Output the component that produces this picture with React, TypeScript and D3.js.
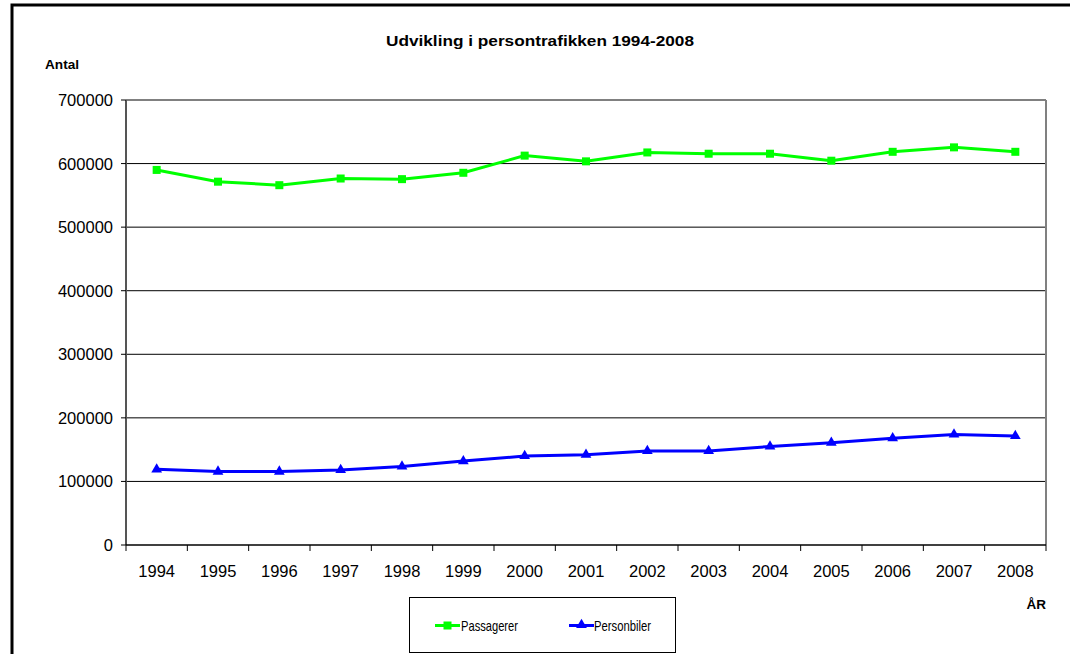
import React from "react";
import * as d3 from "d3";

const years = ["1994","1995","1996","1997","1998","1999","2000","2001","2002","2003","2004","2005","2006","2007","2008"];
const passagerer = [590000,571500,566000,576500,575500,585500,612500,603500,617500,615500,615500,604500,618500,625500,618500];
const personbiler = [119000,115500,115500,118000,123500,132000,140000,142000,148000,148000,155000,161000,168000,174000,171500];
const yTicks = [0,100000,200000,300000,400000,500000,600000,700000];

const W = 1070, H = 654;
const plot = { left: 126, right: 1046, top: 100, bottom: 545 };
const font = "'Liberation Sans', Arial, sans-serif";

export default function App() {
  const x = d3.scaleBand<string>().domain(years).range([plot.left, plot.right]);
  const y = d3.scaleLinear().domain([0, 700000]).range([plot.bottom, plot.top]);
  const cx = (d: string) => (x(d) as number) + x.bandwidth() / 2;
  const line = d3.line<number>().x((_, i) => cx(years[i])).y(v => y(v));
  const tri = d3.symbol().type(d3.symbolTriangle).size(50)();

  return (
    <svg width={W} height={H} style={{ position: "absolute", left: 0, top: 0, background: "#fff" }} fontFamily={font}>
      <rect x={0} y={0} width={W} height={H} fill="#fff" />
      {/* outer frame */}
      <path d={`M12,${H + 10} V5 H${W + 10}`} fill="none" stroke="#000" strokeWidth={3} />

      <text x={386} y={46} fontWeight="bold" fontSize={15.5} textLength={308} lengthAdjust="spacingAndGlyphs">Udvikling i persontrafikken 1994-2008</text>
      <text x={45} y={69} fontWeight="bold" fontSize={13.5} textLength={34} lengthAdjust="spacingAndGlyphs">Antal</text>

      {/* gridlines */}
      {yTicks.filter(t => t > 0).map(t => (
        <line key={t} x1={plot.left} x2={plot.right} y1={y(t)} y2={y(t)} stroke="#000" strokeWidth={1} />
      ))}
      {/* plot frame */}
      <line x1={plot.left} x2={plot.right} y1={plot.top} y2={plot.top} stroke="#808080" strokeWidth={1.5} />
      <line x1={plot.right} x2={plot.right} y1={plot.top} y2={plot.bottom} stroke="#808080" strokeWidth={2} />
      <line x1={plot.left} x2={plot.left} y1={plot.top} y2={plot.bottom} stroke="#555" strokeWidth={2} />
      <line x1={plot.left} x2={plot.right} y1={plot.bottom} y2={plot.bottom} stroke="#000" strokeWidth={1.5} />

      {/* y axis ticks and labels */}
      {yTicks.map(t => (
        <g key={t}>
          <line x1={plot.left - 5} x2={plot.left} y1={y(t)} y2={y(t)} stroke="#000" />
          <text x={113} y={y(t)} dy="0.36em" textAnchor="end" fontSize={16.5}>{t}</text>
        </g>
      ))}
      {/* x axis ticks and labels */}
      {years.map(yr => (
        <line key={"t" + yr} x1={x(yr)} x2={x(yr)} y1={plot.bottom} y2={plot.bottom + 6} stroke="#000" />
      ))}
      <line x1={plot.right} x2={plot.right} y1={plot.bottom} y2={plot.bottom + 6} stroke="#000" />
      {years.map(yr => (
        <text key={"l" + yr} x={cx(yr)} y={577} textAnchor="middle" fontSize={16.5}>{yr}</text>
      ))}
      <text x={1046} y={609} textAnchor="end" fontWeight="bold" fontSize={13.5}>ÅR</text>

      {/* series */}
      <path d={line(passagerer) || ""} fill="none" stroke="#00FF00" strokeWidth={3} />
      {passagerer.map((v, i) => (
        <rect key={"p" + i} x={cx(years[i]) - 4} y={y(v) - 4} width={8} height={8} fill="#00FF00" />
      ))}
      <path d={line(personbiler) || ""} fill="none" stroke="#0000FF" strokeWidth={3} />
      {personbiler.map((v, i) => (
        <path key={"b" + i} d={tri || ""} transform={`translate(${cx(years[i])},${y(v)})`} fill="#0000FF" />
      ))}

      {/* legend */}
      <rect x={409.5} y={597.5} width={266} height={55} fill="#fff" stroke="#000" strokeWidth={1} />
      <line x1={435} x2={460} y1={625.5} y2={625.5} stroke="#00FF00" strokeWidth={3} />
      <rect x={443.5} y={621.5} width={8} height={8} fill="#00FF00" />
      <text x={461} y={631} fontSize={15} textLength={57} lengthAdjust="spacingAndGlyphs">Passagerer</text>
      <line x1={569} x2={594} y1={625.5} y2={625.5} stroke="#0000FF" strokeWidth={3} />
      <path d={tri || ""} transform={`translate(581.5,625)`} fill="#0000FF" />
      <text x={594} y={631} fontSize={15} textLength={57} lengthAdjust="spacingAndGlyphs">Personbiler</text>
    </svg>
  );
}
